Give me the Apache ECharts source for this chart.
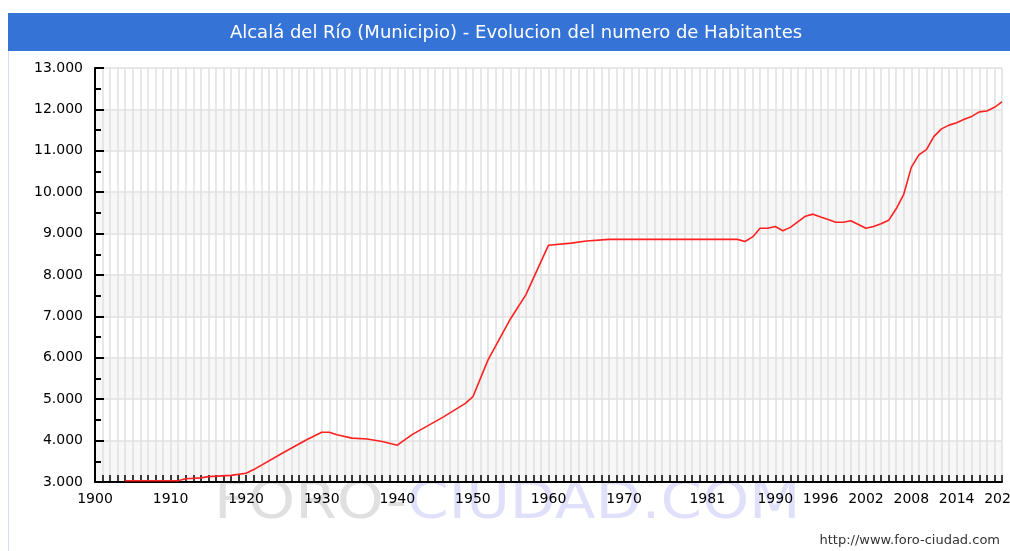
<!DOCTYPE html>
<html>
<head>
<meta charset="utf-8">
<script src="https://cdn.jsdelivr.net/npm/echarts@6/dist/echarts.min.js"></script>
<style>
html,body{margin:0;padding:0;background:#fff;}
#c{width:1010px;height:551px;}
</style>
</head>
<body>
<div id="c"></div>
<script>
const titleText = 'Alcalá del Río (Municipio) - Evolucion del numero de Habitantes';
const years = [1904,1911,1912,1914,1915,1918,1920,1921,1925,1928,1930,1931,1932,1934,1936,1938,1940,1942,1946,1949,1950,1952,1955,1957,1960,1963,1965,1968,1985,1986,1987,1988,1989,1990,1991,1992,1994,1995,1996,1997,1998,1999,2000,2001,2002,2003,2004,2005,2006,2007,2008,2009,2010,2011,2012,2013,2014,2015,2016,2017,2018,2019,2020];
const habitantes = [3030,3030,3080,3100,3130,3160,3210,3300,3720,4020,4200,4200,4140,4060,4040,3980,3890,4150,4560,4900,5060,5950,6950,7520,8720,8770,8820,8860,8860,8810,8920,9130,9130,9170,9070,9150,9420,9470,9400,9340,9275,9275,9310,9220,9130,9170,9240,9320,9600,9950,10600,10900,11030,11350,11530,11620,11680,11760,11830,11940,11960,12050,12180];
const xTickLabels = [1900,1910,1920,1930,1940,1950,1960,1970,1981,1990,1996,2002,2008,2014,2020];
const yMin = 3000, yMax = 13000, yStep = 1000;

const seriesData = years.map((y,i)=>[y, habitantes[i]]);
const chart = echarts.init(document.getElementById('c'), null, {renderer:'canvas'});
const font = 'DejaVu Sans';
chart.setOption({
  animation:false,
  backgroundColor:'#fff',
  grid:{left:95,right:8,top:68,bottom:69,containLabel:false,outerBoundsMode:'none'},
  graphic:[
    {type:'rect',z:-10,shape:{x:8,y:13,width:1002,height:38},style:{fill:'#3574d6'}},
    {type:'text',z:10,style:{x:516,y:33,text:titleText,fill:'#fff',font:'18px "DejaVu Sans"',textAlign:'center',textVerticalAlign:'middle'}},
    {type:'line',z:-10,shape:{x1:8.5,y1:51,x2:8.5,y2:551},style:{stroke:'#d5def0',lineWidth:1}},
    {type:'text',z:-5,x:214,y:479,scaleX:1.17,style:{x:0,y:0,text:'{a|FORO-}{b|CIUDAD.COM}',rich:{a:{fill:'#e0e0e0',font:'51px "DejaVu Sans"'},b:{fill:'#e0e0fb',font:'51px "DejaVu Sans"'}},textVerticalAlign:'top'}},
    {type:'text',z:10,style:{x:1000,y:541,text:'http://www.foro-ciudad.com',fill:'#333',font:'13px "DejaVu Sans"',textAlign:'right',textVerticalAlign:'middle'}}
  ],
  xAxis:{
    type:'value',min:1900,max:2020,interval:1,
    axisLine:{show:true,onZero:false,lineStyle:{color:'#000',width:2}},
    axisTick:{show:true,inside:true,length:7,lineStyle:{color:'#000',width:1.5}},
    axisLabel:{show:true,showMinLabel:true,showMaxLabel:true,hideOverlap:false,interval:0,color:'#000',fontFamily:font,fontSize:14,margin:10,
      formatter:v=> xTickLabels.indexOf(Math.round(v))>=0 ? String(Math.round(v)) : ''},
    splitLine:{show:true,lineStyle:{color:'#e0e0e0',width:1.5}}
  },
  yAxis:{
    type:'value',min:yMin,max:yMax,interval:yStep,
    axisLine:{show:true,lineStyle:{color:'#000',width:2}},
    axisTick:{show:true,inside:true,length:9,lineStyle:{color:'#000',width:2}},
    minorTick:{show:true,splitNumber:2,length:6,lineStyle:{color:'#000',width:2}},
    axisLabel:{color:'#000',fontFamily:font,fontSize:14,margin:12,
      formatter:v=>v.toLocaleString('de-DE')},
    splitLine:{show:true,lineStyle:{color:'#e0e0e0',width:1.5}},
    splitArea:{show:true,areaStyle:{color:['#f7f7f7','#ffffff']}}
  },
  series:[{
    type:'line',data:seriesData,symbol:'none',smooth:false,
    lineStyle:{color:'#ff2020',width:1.6},z:5
  }]
});
</script>
</body>
</html>
